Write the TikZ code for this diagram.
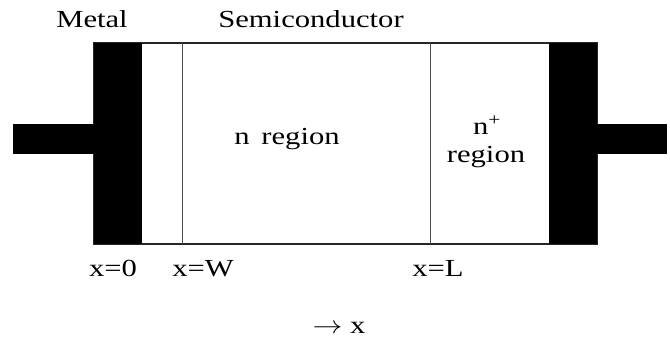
\documentclass[tikz,border=0pt]{standalone}
\usepackage{fontspec}
\setmainfont{Liberation Serif}[FakeStretch=1.25]

\begin{document}
\begin{tikzpicture}[x=1pt, y=-1pt,
  every node/.style={font=\fontsize{24.5}{28}\selectfont, inner sep=0pt},
  border/.style={gray!60!black, line width=1pt}]
  \useasboundingbox (0,0) rectangle (670,337);

  % Semiconductor bar
  \draw[line width=1.6pt, black!85] (94,43) rectangle (597,244);

  % Region boundaries
  \draw[border] (182,43) -- (182,244);
  \draw[border] (430,43) -- (430,244);

  % Metal contacts
  \fill (94,43) rectangle (142,244);
  \fill (13,124) rectangle (94,154);
  \fill (549,43) rectangle (597,244);
  \fill (597,124) rectangle (667,154);

  % Labels
  \node[anchor=base] (metal) at (92,28) {Metal};
  \node[anchor=base] (semi) at (311,28) {Semiconductor};
  \node[anchor=base] (nreg) at (287,144) {n\, region};
  \node[anchor=base] (nplus) at (487,135) {n\textsuperscript{+}};
  \node[anchor=base] (npreg) at (486,162) {region};

  % Positions
  \node[anchor=base] (x0) at (113,276) {x=0};
  \node[anchor=base] (xW) at (203,276) {x=W};
  \node[anchor=base] (xL) at (438,276) {x=L};
  \node[anchor=base] (xaxis) at (339,333) {\scalebox{1.2}[1]{$\rightarrow$} x};
\end{tikzpicture}
\end{document}
